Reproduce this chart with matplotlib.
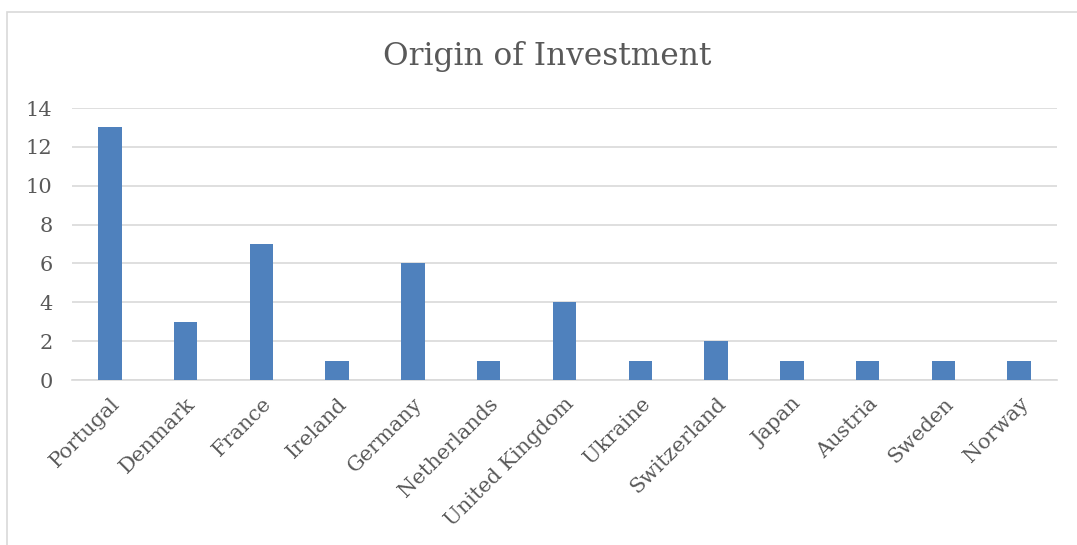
import matplotlib
matplotlib.use("Agg")
import matplotlib.pyplot as plt
from matplotlib.patches import Rectangle

categories = ["Portugal", "Denmark", "France", "Ireland", "Germany", "Netherlands",
              "United Kingdom", "Ukraine", "Switzerland", "Japan", "Austria", "Sweden", "Norway"]
values = [13, 3, 7, 1, 6, 1, 4, 1, 2, 1, 1, 1, 1]
yticks = [0, 2, 4, 6, 8, 10, 12, 14]

W, H = 1077, 545
fig = plt.figure(figsize=(W / 100, H / 100), dpi=100)
plt.rcParams['font.family'] = ['DejaVu Serif']
txt = '#595959'

# chart frame
fig.patches.append(Rectangle((7 / W, -0.1), 1.2, (H - 11.5) / H + 0.1, transform=fig.transFigure,
                             fill=False, edgecolor='#d9d9d9', linewidth=1.2))

ax = fig.add_axes([72 / W, (H - 380) / H, (1057 - 72) / W, (380 - 108) / H])
x = range(len(categories))
ax.bar(x, values, width=0.31, color='#4f81bd', zorder=3)
ax.set_xlim(-0.5, len(categories) - 0.5)
ax.set_ylim(0, 14)
ax.set_yticks(yticks)
ax.set_yticklabels([str(v) for v in yticks], fontsize=15, color=txt)
ax.set_xticks(list(x))
ax.set_xticklabels(categories, rotation=45, ha='right', va='top', rotation_mode='anchor',
                   fontsize=15, color=txt)
ax.tick_params(axis='both', length=0)
ax.tick_params(axis='y', pad=14)
ax.tick_params(axis='x', pad=10)
ax.grid(axis='y', color='#d9d9d9', linewidth=1.2, zorder=0)
for s in ['top', 'right', 'left']:
    ax.spines[s].set_visible(False)
ax.spines['bottom'].set_color('#d9d9d9')
ax.spines['bottom'].set_linewidth(1.2)

fig.text(547 / W, 1 - 56 / H, "Origin of Investment", ha='center', va='center',
         fontsize=22.5, color=txt)

fig.savefig("out.png", dpi=100)
